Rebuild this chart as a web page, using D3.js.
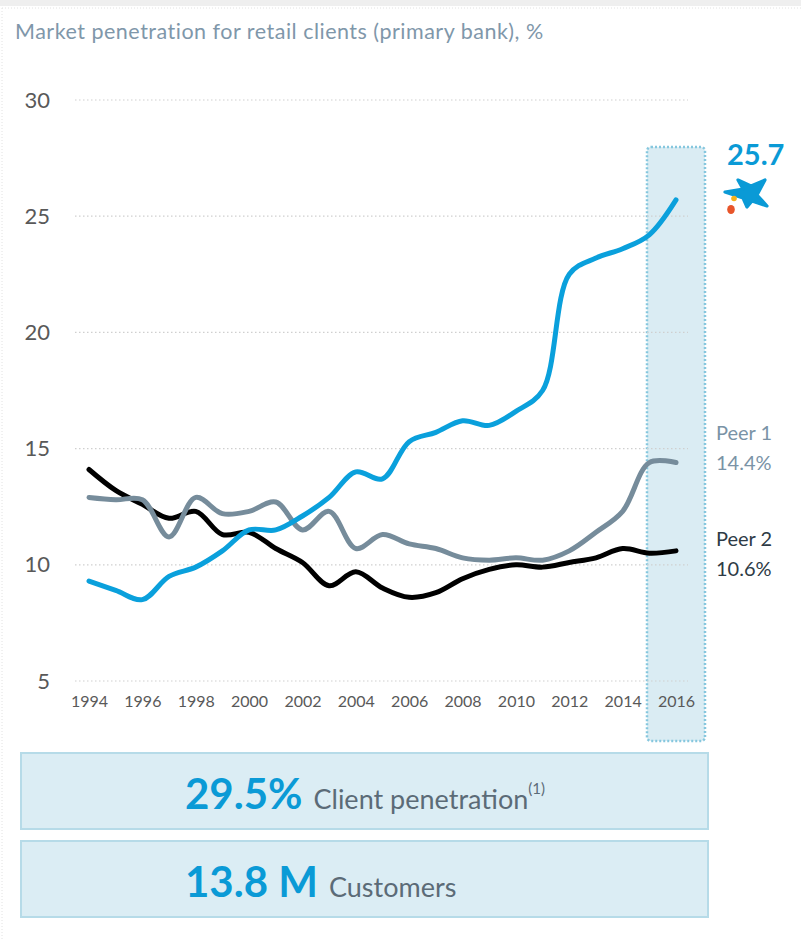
<!DOCTYPE html>
<html>
<head>
<meta charset="utf-8">
<script src="https://cdn.jsdelivr.net/npm/d3@7"></script>
<style>
  body { margin: 0; background: #fff; }
  svg { display: block; font-family: Lato, "Open Sans", sans-serif; }
</style>
</head>
<body>
<svg id="chart" width="801" height="941"></svg>
<script>
// data
var years = d3.range(1994, 2017);
var caixa = [9.3, 8.9, 8.5, 9.5, 9.9, 10.6, 11.5, 11.5, 12.1, 12.9, 14.0, 13.7, 15.3, 15.7, 16.2, 16.0, 16.6, 17.5, 22.5, 23.2, 23.6, 24.2, 25.7];
var peer1 = [12.9, 12.8, 12.8, 11.2, 12.9, 12.2, 12.3, 12.7, 11.5, 12.3, 10.7, 11.3, 10.9, 10.7, 10.3, 10.2, 10.3, 10.2, 10.6, 11.4, 12.3, 14.4, 14.4];
var peer2 = [14.1, 13.2, 12.6, 12.0, 12.3, 11.3, 11.4, 10.7, 10.1, 9.1, 9.7, 9.0, 8.6, 8.8, 9.4, 9.8, 10.0, 9.9, 10.1, 10.3, 10.7, 10.5, 10.6];
var yTicks = [5, 10, 15, 20, 25, 30];
var xTicks = d3.range(1994, 2017, 2);

var svg = d3.select("#chart");

// chart frame (faint)
svg.append("rect").attr("x", 0).attr("y", 0).attr("width", 801).attr("height", 6)
    .style("fill", "#efefef");
svg.append("line").attr("x1", 2).attr("x2", 2).attr("y1", 8).attr("y2", 941)
    .style("stroke", "#e2e2e2").style("stroke-dasharray", "1,2");
svg.append("line").attr("x1", 2).attr("x2", 801).attr("y1", 8).attr("y2", 8)
    .style("stroke", "#e2e2e2").style("stroke-dasharray", "1,2");

svg.append("text")
    .attr("x", 15).attr("y", 39)
    .style("font-size", "21.5px").style("letter-spacing", "0.5px").style("fill", "#7f97aa")
    .text("Market penetration for retail clients (primary bank), %");

var x = d3.scaleLinear().domain([1994, 2016]).range([89, 676]);
var y = d3.scaleLinear().domain([5, 30]).range([681, 100]);

// highlight column for 2016
svg.append("rect")
    .attr("x", 647).attr("y", 147).attr("width", 58).attr("height", 594)
    .attr("rx", 4)
    .style("fill", "#daecf3")
    .style("stroke", "#86c7de").style("stroke-width", 2.5)
    .style("stroke-dasharray", "2,2");

// gridlines
svg.append("g").selectAll("line")
    .data(yTicks).enter().append("line")
    .attr("x1", 75).attr("x2", 688)
    .attr("y1", function (d) { return y(d); })
    .attr("y2", function (d) { return y(d); })
    .style("stroke", "#cfcfcf").style("stroke-width", 1.2)
    .style("stroke-dasharray", "1.5,2.5");

// y axis labels
var yAxis = svg.append("g")
    .attr("transform", "translate(50,0)")
    .call(d3.axisLeft(y).tickValues(yTicks).tickSize(0).tickPadding(0));
yAxis.select(".domain").remove();
yAxis.selectAll("text")
    .style("font-family", "Lato, sans-serif").style("font-size", "22px").style("fill", "#595959");

// x axis labels
var xAxis = svg.append("g")
    .attr("transform", "translate(0,696)")
    .call(d3.axisBottom(x).tickValues(xTicks).tickFormat(d3.format("d")).tickSize(0).tickPadding(0));
xAxis.select(".domain").remove();
xAxis.selectAll("text")
    .style("font-family", "Lato, sans-serif").style("font-size", "16px").style("fill", "#595959");

var line = d3.line()
    .x(function (d, i) { return x(years[i]); })
    .y(function (d) { return y(d); })
    .curve(d3.curveCatmullRom.alpha(0.5));

var series = [
    { name: "peer2", values: peer2, color: "#000000" },
    { name: "peer1", values: peer1, color: "#768c9b" },
    { name: "caixa", values: caixa, color: "#0aa0dc" }
];

svg.append("g").selectAll("path")
    .data(series).enter().append("path")
    .attr("d", function (d) { return line(d.values); })
    .style("fill", "none")
    .style("stroke", function (d) { return d.color; })
    .style("stroke-width", 5)
    .style("stroke-linecap", "round")
    .style("stroke-linejoin", "round");

// end labels
svg.append("text").attr("x", 727).attr("y", 165)
    .style("font-size", "29px").style("font-weight", "bold").style("fill", "#0a9ad6")
    .text(caixa[caixa.length - 1].toFixed(1));

svg.append("text").attr("x", 716).attr("y", 440)
    .style("font-size", "20px").style("fill", "#7a93a6").text("Peer 1");
svg.append("text").attr("x", 716).attr("y", 470)
    .style("font-size", "20px").style("fill", "#7a93a6").text(peer1[peer1.length - 1].toFixed(1) + "%");
svg.append("text").attr("x", 716).attr("y", 546)
    .style("font-size", "20px").style("fill", "#2e3b46").text("Peer 2");
svg.append("text").attr("x", 716).attr("y", 576)
    .style("font-size", "20px").style("fill", "#2e3b46").text(peer2[peer2.length - 1].toFixed(1) + "%");

// bank logo (star + dots)
var logo = svg.append("g");
logo.append("path")
    .attr("d", "M725,192 L743,189 L738,180 L751,186 L765,180 L757,195 L767,206 L752,201 L747,207 L743,198 Z")
    .style("fill", "#0a9ad6")
    .style("stroke", "#0a9ad6").style("stroke-width", 3.2).style("stroke-linejoin", "round");
logo.append("circle").attr("cx", 734).attr("cy", 198.5).attr("r", 2.8).style("fill", "#f6b21b");
logo.append("ellipse").attr("cx", 731).attr("cy", 209.5).attr("rx", 3.8).attr("ry", 4.6).style("fill", "#e8552a");

// KPI boxes
var boxes = [
    { y: 753, big: "29.5%", small: "Client penetration", sup: "(1)" },
    { y: 841, big: "13.8 M", small: "Customers", sup: "" }
];

var box = svg.append("g").selectAll("g")
    .data(boxes).enter().append("g")
    .attr("transform", function (d) { return "translate(21," + d.y + ")"; });

box.append("rect")
    .attr("width", 687).attr("height", 76)
    .style("fill", "#dbedf4").style("stroke", "#b6dbe8").style("stroke-width", 2);

var t = box.append("text").attr("x", 164).attr("y", 56);
t.append("tspan")
    .style("font-size", "42px").style("font-weight", "bold").style("fill", "#0a9ad6")
    .text(function (d) { return d.big; });
t.append("tspan")
    .attr("dx", 11)
    .style("font-size", "27px").style("fill", "#5b6b77")
    .text(function (d) { return d.small; });
t.append("tspan")
    .attr("dy", -15)
    .style("font-size", "15px").style("fill", "#5b6b77")
    .text(function (d) { return d.sup; });
</script>
</body>
</html>
